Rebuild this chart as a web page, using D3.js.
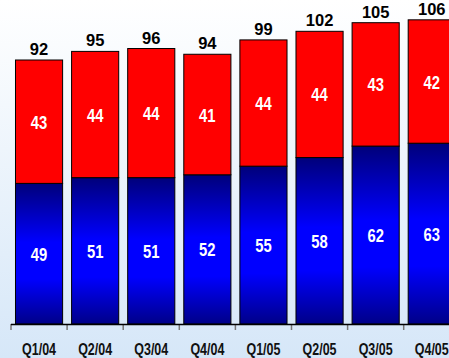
<!DOCTYPE html>
<html><head><meta charset="utf-8">
<script src="https://cdn.jsdelivr.net/npm/d3@7"></script>
<style>html,body{margin:0;padding:0;overflow:hidden;background:#fff}</style>
</head><body>
<script>
const categories = ["Q1/04","Q2/04","Q3/04","Q4/04","Q1/05","Q2/05","Q3/05","Q4/05"];
const blueValues = [49,51,51,52,55,58,62,63];
const redValues  = [43,44,44,41,44,44,43,42];
const totals     = [92,95,96,94,99,102,105,106];

const W = 449, H = 358;
const svg = d3.select("body").append("svg").attr("width", W).attr("height", H);
const defs = svg.append("defs");
const bg = defs.append("linearGradient").attr("id","bg").attr("x1",0).attr("y1",0).attr("x2",0).attr("y2",1);
bg.append("stop").attr("offset","0%").attr("stop-color","#ffffff");
bg.append("stop").attr("offset","100%").attr("stop-color","#d6e7f8");
const bl = defs.append("linearGradient").attr("id","blue").attr("x1",0).attr("y1",0).attr("x2",0).attr("y2",1);
bl.append("stop").attr("offset","0%").attr("stop-color","#00007a");
bl.append("stop").attr("offset","42%").attr("stop-color","#0000ff");
bl.append("stop").attr("offset","68%").attr("stop-color","#0000ff");
bl.append("stop").attr("offset","100%").attr("stop-color","#000088");

svg.append("rect").attr("width",W).attr("height",H).attr("fill","url(#bg)");

const x = d3.scaleBand().domain(categories).range([11, 11 + 8*56.1]).paddingInner(0.16).paddingOuter(0.08);
const y = d3.scaleLinear().domain([0, 92]).range([324, 60]);
const step = x.step();
const x0 = x.range()[0];
const font = "'Liberation Sans',Arial,sans-serif";

function narrowText(px, py, txt, size, fill, sx) {
  g.append("text").attr("transform",`translate(${px},${py}) scale(${sx},1)`)
    .attr("text-anchor","middle").attr("fill",fill)
    .style("font-family",font).style("font-weight","bold").style("font-size",size+"px")
    .text(txt);
}

const g = svg.append("g");
categories.forEach((c,i)=>{
  const bx = x(c), bw = x.bandwidth();
  g.append("rect").attr("x",bx).attr("y",y(blueValues[i])).attr("width",bw)
    .attr("height",y(0)-y(blueValues[i])).attr("fill","url(#blue)").attr("stroke","#000").attr("stroke-width",1);
  g.append("rect").attr("x",bx).attr("y",y(totals[i])).attr("width",bw)
    .attr("height",y(blueValues[i])-y(totals[i])).attr("fill","#ff0000").attr("stroke","#000").attr("stroke-width",1);
  const cx = bx + bw/2;
  narrowText(cx, (y(0)+y(blueValues[i]))/2 + 7, blueValues[i], 18.5, "#fff", 0.8);
  narrowText(cx, (y(blueValues[i])+y(totals[i]))/2 + 7, redValues[i], 18.5, "#fff", 0.8);
  g.append("text").attr("x",cx).attr("y",y(totals[i])-5)
    .attr("text-anchor","middle").attr("fill","#000")
    .style("font-family",font).style("font-weight","bold").style("font-size","16.5px")
    .text(totals[i]);
  narrowText(cx, 354.5, c, 16, "#111", 0.78);
});
// ticks at band boundaries
d3.range(categories.length+1).forEach(i=>{
  const tx = x0 + i*step;
  g.append("line").attr("x1",tx).attr("x2",tx).attr("y1",324).attr("y2",330).attr("stroke","#777").attr("stroke-width",1.5);
});
g.append("line").attr("x1",x0).attr("x2",W).attr("y1",324.5).attr("y2",324.5).attr("stroke","#000").attr("stroke-width",1.5);
</script>
</body></html>
